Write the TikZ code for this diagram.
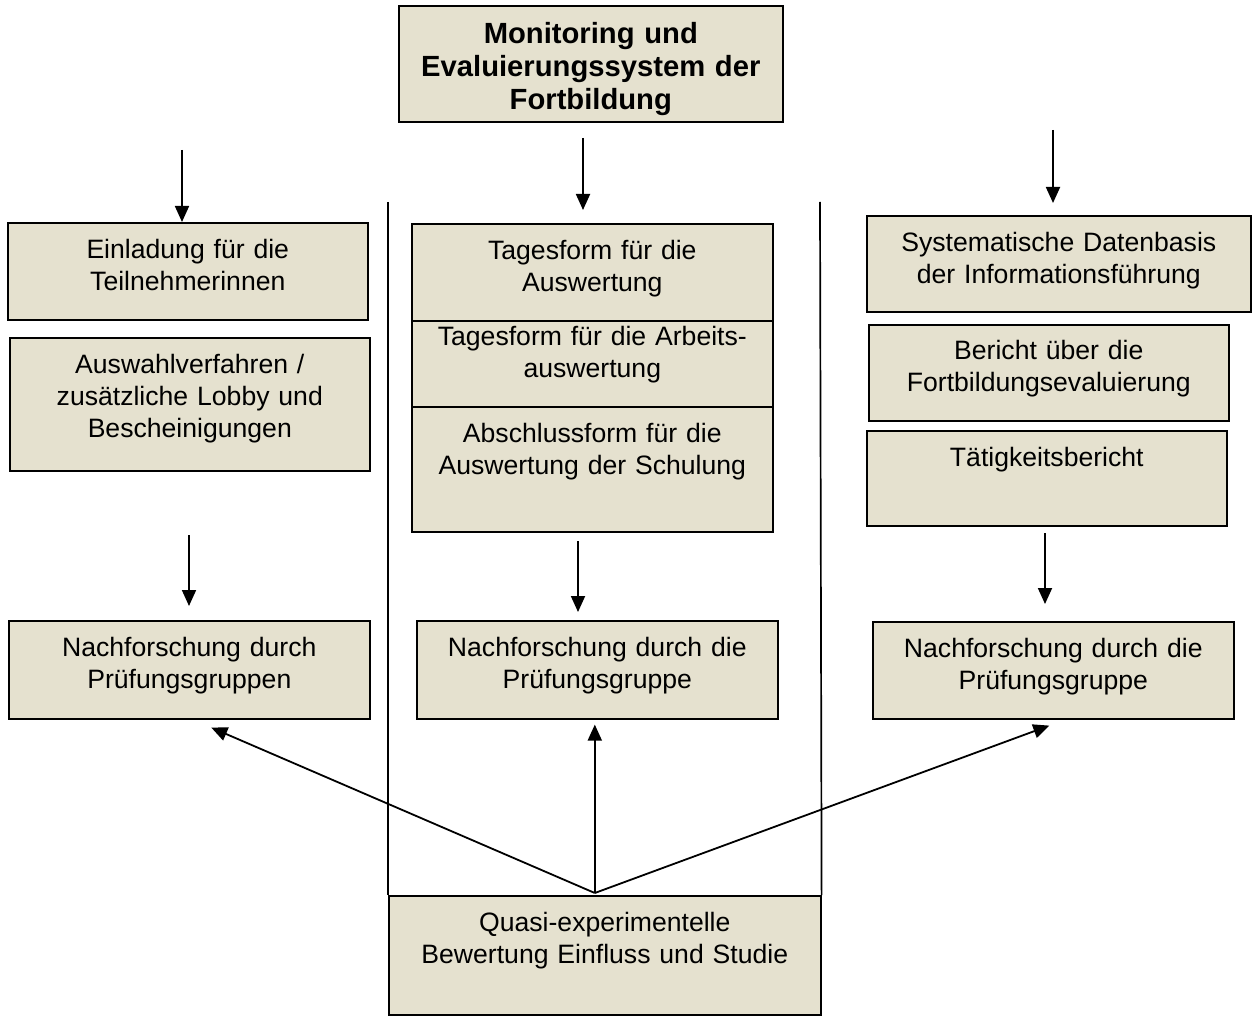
\documentclass[tikz,border=0pt]{standalone}
\usepackage{fontspec}
\setmainfont{Liberation Sans}
\usepackage{xcolor}
\usetikzlibrary{calc,arrows.meta}
\definecolor{kastenfarbe}{RGB}{229,225,207}
\tikzset{
  kasten/.style={draw, line width=1.6pt, fill=kastenfarbe, anchor=north west,
    align=center, inner xsep=5pt, inner ysep=0pt, text height=35.5pt,
    font=\fontsize{26.6pt}{32pt}\selectfont},
  pfeil/.style={line width=1.8pt, -{Triangle[length=16pt,width=14pt]}},
  trenner/.style={line width=1.7pt}
}

\begin{document}
\begin{tikzpicture}[x=1pt,y=-1pt]
			\useasboundingbox (0,0) rectangle (1255,1016);

			% oben
			\node[kasten, text width=374pt, text height=38pt, text depth=78pt,
				font=\bfseries\fontsize{29.2pt}{33pt}\selectfont] (titel) at (398,5)
				{Monitoring und\\Evaluierungssystem der\\Fortbildung};

			% linke Spalte
			\node[kasten, text width=350pt, text depth=61.5pt] (einladung) at (7,222)
				{Einladung für die\\Teilnehmerinnen};
			\node[kasten, text width=350pt, text depth=97.5pt] (auswahl) at (9,337)
				{Auswahlverfahren /\\zusätzliche Lobby und\\Bescheinigungen};
			\node[kasten, text width=351pt, text depth=62.5pt] (nachL) at (8,620)
				{Nachforschung durch\\Prüfungsgruppen};

			% mittlere Spalte
			\node[kasten, text width=351pt, text depth=61.5pt] (tagesform) at (411,223)
				{Tagesform für die\\Auswertung};
			\node[kasten, text width=351pt, text height=25pt, text depth=61pt] (arbeit) at (411,320)
				{Tagesform für die Arbeits-\\auswertung};
			\node[kasten, text width=351pt, text depth=89.5pt] (abschluss) at (411,406)
				{Abschlussform für die\\Auswertung der Schulung};
			\node[kasten, text width=351pt, text depth=62.5pt] (nachM) at (416,620)
				{Nachforschung durch die\\Prüfungsgruppe};

			% rechte Spalte
			\node[kasten, text width=374pt, text depth=60.5pt] (datenbasis) at (866,215)
				{Systematische Datenbasis\\der Informationsführung};
			\node[kasten, text width=350pt, text height=34.5pt, text depth=61.5pt] (bericht) at (868,324)
				{Bericht über die\\Fortbildungsevaluierung};
			\node[kasten, text width=350pt, text depth=59.5pt] (taetigkeit) at (866,430)
				{Tätigkeitsbericht};
			\node[kasten, text width=351pt, text depth=61.5pt] (nachR) at (872,621)
				{Nachforschung durch die\\Prüfungsgruppe};

			% unten
			\node[kasten, text width=422pt, text depth=83.5pt] (quasi) at (388,895)
				{Quasi-experimentelle\\Bewertung Einfluss und Studie};

			% Trennlinien
			\coordinate (trennL) at (388,202);
			\coordinate (trennR) at (820,202);
			\draw[trenner] (trennL) -- (quasi.north west);
			\draw[trenner] (trennR) -- (quasi.north east);

			% Pfeile nach unten
			\coordinate (p1) at (182,150);
			\coordinate (p2) at (583,138);
			\coordinate (p3) at (1053,130);
			\coordinate (p4) at (189,535);
			\coordinate (p5) at (578,541);
			\coordinate (p6) at (1045,533);
			\draw[pfeil] (p1) -- (einladung.north -| p1);
			\draw[pfeil, shorten >=13pt] (p2) -- (tagesform.north -| p2);
			\draw[pfeil, shorten >=12pt] (p3) -- (datenbasis.north -| p3);
			\draw[pfeil, shorten >=14pt] (p4) -- (nachL.north -| p4);
			\draw[pfeil, shorten >=8pt] (p5) -- (nachM.north -| p5);
			\draw[pfeil, shorten >=17pt] (p6) -- (nachR.north -| p6);

			% Pfeile von unten
			\coordinate (mitte) at ($(quasi.north)+(-10,-2)$);
			\draw[pfeil] (mitte) -- ($(nachL.south)+(22,8)$);
			\draw[pfeil, shorten >=5pt] (mitte) -- (mitte |- nachM.south);
			\draw[pfeil] (mitte) -- ($(nachR.south)+(-4,6)$);
		\end{tikzpicture}
\end{document}
